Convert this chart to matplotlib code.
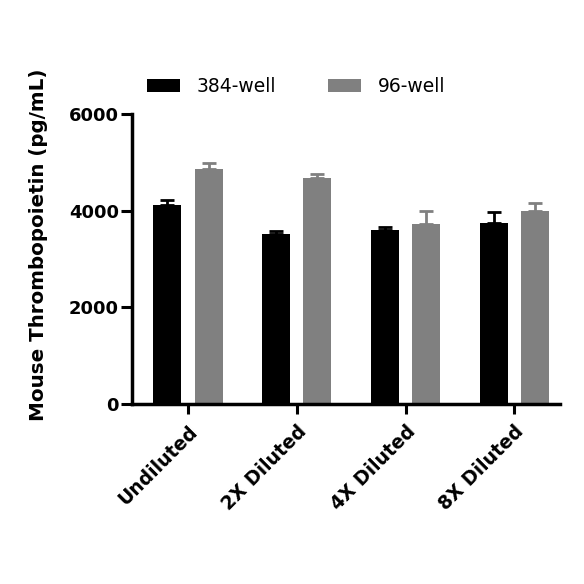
import numpy as np
import matplotlib
matplotlib.use('Agg')
import matplotlib.pyplot as plt

# values
categories = ['Undiluted', '2X Diluted', '4X Diluted', '8X Diluted']
well_384 = [4110, 3525, 3595, 3740]
well_384_err = [115, 50, 75, 240]
well_96 = [4870, 4670, 3730, 4000]
well_96_err = [105, 85, 255, 165]
series_names = ['384-well', '96-well']
yticks = [0, 2000, 4000, 6000]

plt.rcParams['font.family'] = 'DejaVu Sans'

fig = plt.figure(figsize=(5.84, 5.84), dpi=100)
ax = fig.add_axes([0.226, 0.308, 0.733, 0.497])

x = np.arange(len(categories))
w = 0.258
off = 0.189
ekw = dict(elinewidth=2, capthick=2)
b1 = ax.bar(x - off, well_384, w, color='black', label=series_names[0])
b2 = ax.bar(x + off, well_96, w, color='#808080', label=series_names[1])
ax.errorbar(x - off, well_384, yerr=[np.zeros(4), well_384_err], fmt='none',
            ecolor='black', capsize=4.7, **ekw)
ax.errorbar(x + off, well_96, yerr=[np.zeros(4), well_96_err], fmt='none',
            ecolor='#808080', capsize=4.7, **ekw)

ax.set_xlim(-0.515, 3.42)
ax.set_ylim(0, 6000)
ax.set_yticks(yticks)
ax.set_yticklabels([str(t) for t in yticks], fontsize=13, fontweight='bold')
ax.set_xticks(x)
ax.set_xticklabels(categories, rotation=45, ha='right', rotation_mode='anchor',
                   fontsize=13.5, fontweight='bold')
ax.tick_params(axis='y', length=8, width=2.2, pad=1.5)
ax.tick_params(axis='x', length=7, width=2.2, pad=6)

for s in ['top', 'right']:
    ax.spines[s].set_visible(False)
for s in ['left', 'bottom']:
    ax.spines[s].set_linewidth(2.5)

# y label sits a little above the axes centre in the reference
fig.text(39 / 584, 1 - 245 / 584, 'Mouse Thrombopoietin (pg/mL)', rotation=90,
         ha='center', va='center', fontsize=14.3, fontweight='bold')

fig.legend(handles=[b1, b2], loc='center left', bbox_to_anchor=(147 / 584, 1 - 86.5 / 584),
           ncol=2, frameon=False, fontsize=13.5, handlelength=1.76, handleheight=0.68,
           handletextpad=0.9, columnspacing=2.77, borderpad=0, borderaxespad=0)

fig.savefig('out.png', dpi=100)
